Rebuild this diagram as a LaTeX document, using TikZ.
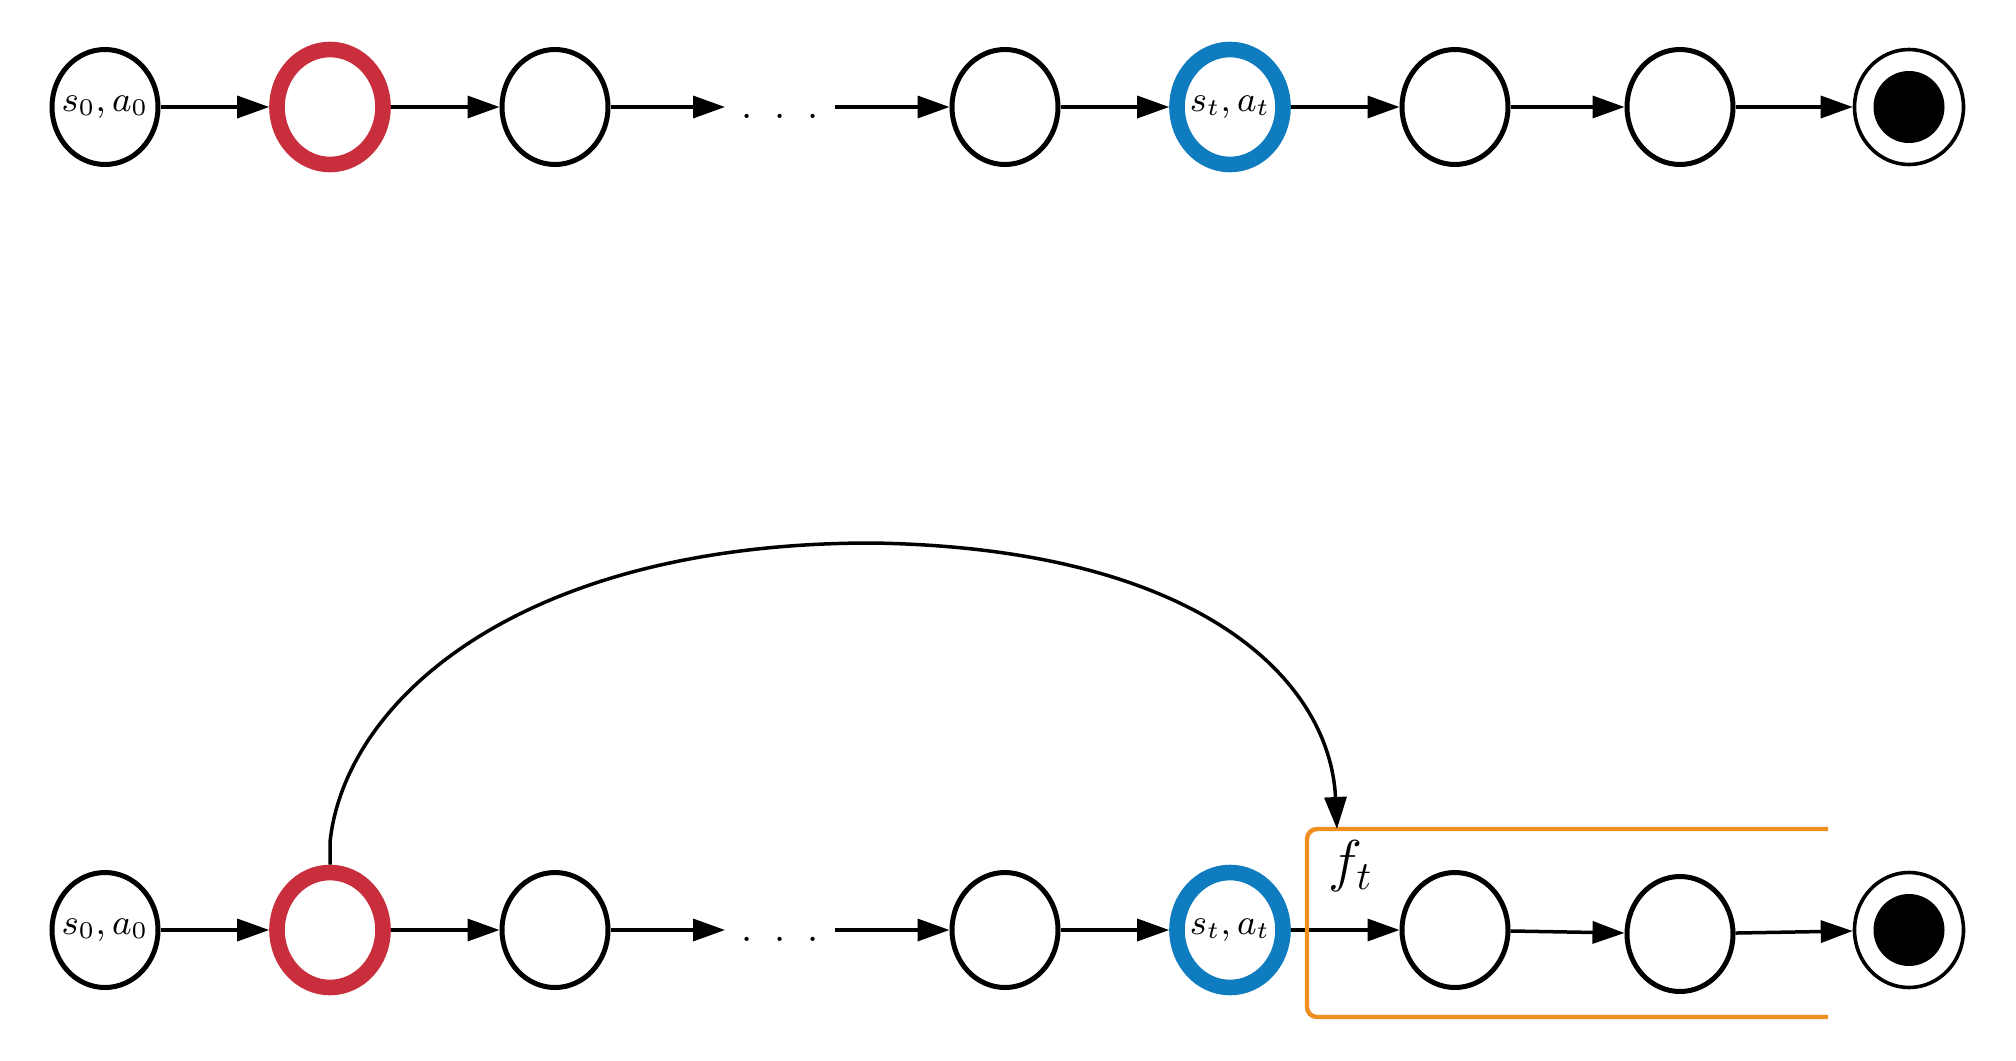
\documentclass[tikz,border=0pt]{standalone}
\usetikzlibrary{arrows.meta,shapes.geometric}
\definecolor{myred}{RGB}{200,46,60}
\definecolor{myblue}{RGB}{14,124,190}
\definecolor{myorange}{RGB}{239,143,33}
\newcommand{\ctext}[1]{\makebox[0pt][c]{#1}}
\begin{document}
\begin{tikzpicture}[x=0.25pt,y=-0.25pt,
  st/.style={ellipse,draw=black,line width=1.25pt,minimum width=26.5pt,minimum height=28.75pt,inner sep=0pt,font=\fontsize{9}{11}\selectfont},
  redst/.style={st,draw=myred,line width=3.9pt},
  bluest/.style={st,draw=myblue,line width=3.9pt},
  termst/.style={st,line width=0.9pt,minimum width=27.25pt},
  fillst/.style={ellipse,fill=black,minimum width=17.75pt,minimum height=18pt,inner sep=0pt},
  dotsst/.style={minimum width=27.5pt,inner sep=0pt,outer sep=0pt,text height=5.56pt,text depth=0pt,font=\fontsize{10}{12}\selectfont},
  arr/.style={-{Triangle[length=8pt,width=5.5pt]},line width=0.875pt},
  boxst/.style={draw=myorange,line width=1.1pt,rounded corners=2.5pt}]
\useasboundingbox (0,0) rectangle (2016,1061);
% top row
\node[st] (a1) at (105,107) {\ctext{$s_0, a_0$}};
\node[redst] (a2) at (330,107) {};
\node[st] (a3) at (555,107) {};
\node[dotsst] (ad) at (780,107) {.\hspace{5.5pt}.\hspace{5.5pt}.};
\node[st] (a4) at (1005,107) {};
\node[bluest] (a5) at (1230,107) {\ctext{$s_t, a_t$}};
\node[st] (a6) at (1455,107) {};
\node[st] (a7) at (1680,107) {};
\node[termst] (a8) at (1909,107) {};
\node[fillst] (a8i) at (1909,107) {};
\draw[arr] (a1) -- (a2);
\draw[arr] (a2) -- (a3);
\draw[arr] (a3) -- (ad);
\draw[arr] (ad) -- (a4);
\draw[arr] (a4) -- (a5);
\draw[arr] (a5) -- (a6);
\draw[arr] (a6) -- (a7);
\draw[arr] (a7) -- (a8);
% bottom row
\node[st] (b1) at (105,930) {\ctext{$s_0, a_0$}};
\node[redst] (b2) at (330,930) {};
\node[st] (b3) at (555,930) {};
\node[dotsst] (bd) at (780,930) {.\hspace{5.5pt}.\hspace{5.5pt}.};
\node[st] (b4) at (1005,930) {};
\node[bluest] (b5) at (1230,930) {\ctext{$s_t, a_t$}};
\node[st] (b6) at (1455,930) {};
\node[st] (b7) at (1680,934) {};
\node[termst] (b8) at (1909,930) {};
\node[fillst] (b8i) at (1909,930) {};
\draw[arr] (b1) -- (b2);
\draw[arr] (b2) -- (b3);
\draw[arr] (b3) -- (bd);
\draw[arr] (bd) -- (b4);
\draw[arr] (b4) -- (b5);
\draw[arr] (b5) -- (b6);
\draw[arr] (b6) -- (b7);
\draw[arr] (b7) -- (b8);
% orange bracket box
\coordinate (boxtr) at (1828,829);
\coordinate (boxtl) at (1307,829);
\coordinate (boxbl) at (1307,1017);
\coordinate (boxbr) at (1828,1017);
\draw[boxst] (boxtr) -- (boxtl) -- (boxbl) -- (boxbr);
\node[font=\fontsize{14}{16}\selectfont,inner sep=0pt] (ft) at (1351,866) {$f_t$};
% long curved arrow
\coordinate (bend) at (330,842);
\coordinate (peak) at (872,543);
\coordinate (ftin) at (1337,829);
\draw[arr] (b2.north) -- (bend) .. controls (345,700) and (520,543) .. (peak) .. controls (1200,548) and (1330,680) .. (ftin);
\end{tikzpicture}
\end{document}
